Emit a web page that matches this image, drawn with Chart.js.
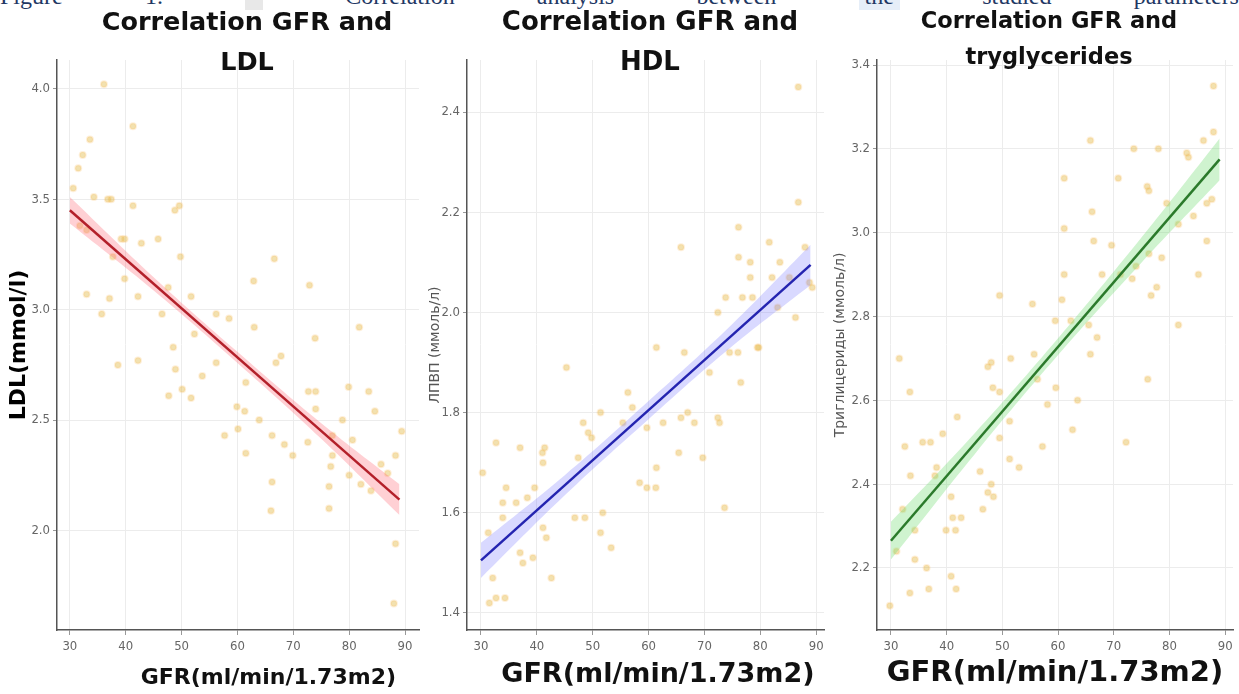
<!DOCTYPE html>
<html>
<head>
<meta charset="utf-8">
<script src="https://cdn.jsdelivr.net/npm/chart.js@4.4.1/dist/chart.umd.min.js"></script>
<style>
	body { margin: 0; width: 1239px; height: 694px; background: #fff; position: relative; overflow: hidden; }
	.caption { position: absolute; left: 0; top: -17px; width: 1239px; font-family: 'Liberation Serif', serif; font-size: 24px; color: #1f3864; display: flex; justify-content: space-between; }
	.caption .hl { background: #e8e8e8; }
	.caption .hl2 { background: #e6eef8; }
	.panel { position: absolute; top: 0; height: 694px; }
	.title { position: absolute; font-family: 'DejaVu Sans', sans-serif; font-weight: bold; color: #111; text-align: center; }
</style>
</head>
<body>
<div class="caption"><span>Figure</span><span>1.</span><span class="hl">&nbsp;&nbsp;&nbsp;</span><span>Correlation</span><span>analysis</span><span>between</span><span class="hl2">&nbsp;the&nbsp;</span><span>studied</span><span>parameters</span></div>

<div class="panel" style="left:0;width:425px"><canvas id="chart-ldl"></canvas></div>
<div class="panel" style="left:425px;width:405px"><canvas id="chart-hdl"></canvas></div>
<div class="panel" style="left:830px;width:409px"><canvas id="chart-tg"></canvas></div>

<div class="title" style="left:47px;width:400px;top:1px;font-size:25.5px;line-height:40px">Correlation GFR and<br>LDL</div>
<div class="title" style="left:450px;width:400px;top:1px;font-size:26px;line-height:40px">Correlation GFR and<br>HDL</div>
<div class="title" style="left:869px;width:360px;top:2px;font-size:22.5px;line-height:36px">Correlation GFR and<br>tryglycerides</div>

<script>
// LDL
var ldlGfr = [36.1, 41.3, 33.6, 32.3, 31.5, 30.6, 34.3, 36.8, 37.4, 41.3, 48.8, 49.6, 31.8, 33.0, 39.2, 39.8, 42.8, 45.8, 37.7, 49.8,
	66.6, 39.8, 62.9, 72.9, 33.0, 37.1, 42.2, 51.7, 35.7, 46.5, 47.6, 56.2, 58.5, 63.0, 81.8, 52.3, 73.9, 48.5, 38.6, 42.2,
	48.9, 56.2, 53.7, 47.7, 50.1, 51.7, 61.5, 59.9, 61.3, 63.9, 66.9, 67.8, 57.7, 60.1, 61.5, 66.2, 68.4, 69.9, 72.7, 74.0,
	74.0, 72.6, 79.9, 83.5, 84.6, 78.8, 77.0, 76.7, 76.4, 77.0, 80.0, 82.1, 83.9, 85.7, 86.9, 88.3, 89.4, 88.3, 88.0, 66.2,
	66.0, 76.4, 80.6];
var ldlVal = [4.02, 3.83, 3.77, 3.70, 3.64, 3.55, 3.51, 3.50, 3.50, 3.47, 3.45, 3.47, 3.38, 3.36, 3.32, 3.32, 3.30, 3.32, 3.24, 3.24,
	3.23, 3.14, 3.13, 3.11, 3.07, 3.05, 3.06, 3.06, 2.98, 2.98, 3.10, 2.98, 2.96, 2.92, 2.92, 2.89, 2.87, 2.83, 2.75, 2.77,
	2.73, 2.76, 2.70, 2.61, 2.64, 2.60, 2.67, 2.56, 2.54, 2.50, 2.76, 2.79, 2.43, 2.46, 2.35, 2.43, 2.39, 2.34, 2.63, 2.63,
	2.55, 2.40, 2.65, 2.63, 2.54, 2.50, 2.43, 2.29, 2.20, 2.34, 2.25, 2.21, 2.18, 2.30, 2.26, 2.34, 2.45, 1.94, 1.67, 2.22,
	2.09, 2.10, 2.41];

// HDL
var hdlGfr = [86.8, 86.8, 76.1, 65.8, 81.6, 88.0, 76.1, 78.2, 83.5, 78.2, 82.1, 85.2, 88.8, 89.3, 73.8, 76.8, 78.6, 72.4, 83.1, 86.3,
	79.5, 61.4, 66.4, 74.5, 76.0, 79.7, 45.3, 70.9, 76.5, 56.3, 57.1, 51.4, 55.4, 59.7, 62.6, 65.8, 67.0, 68.2, 72.4, 72.7,
	48.3, 49.2, 49.8, 32.7, 37.0, 41.4, 41.0, 41.1, 47.4, 65.4, 69.7, 61.4, 30.3, 58.4, 59.7, 61.3, 34.5, 39.6, 38.3, 36.3,
	33.9, 73.6, 51.8, 33.9, 46.8, 48.6, 31.3, 51.4, 41.1, 41.7, 53.3, 37.0, 39.3, 37.5, 42.6, 32.1, 32.7, 34.3, 31.5];
var hdlVal = [2.45, 2.22, 2.17, 2.13, 2.14, 2.13, 2.11, 2.10, 2.10, 2.07, 2.07, 2.07, 2.06, 2.05, 2.03, 2.03, 2.03, 2.00, 2.01, 1.99,
	1.93, 1.93, 1.92, 1.92, 1.92, 1.93, 1.89, 1.88, 1.86, 1.84, 1.81, 1.80, 1.78, 1.77, 1.78, 1.79, 1.80, 1.78, 1.79, 1.78,
	1.78, 1.76, 1.75, 1.74, 1.73, 1.73, 1.72, 1.70, 1.71, 1.72, 1.71, 1.69, 1.68, 1.66, 1.65, 1.65, 1.65, 1.65, 1.63, 1.62,
	1.62, 1.61, 1.60, 1.59, 1.59, 1.59, 1.56, 1.56, 1.57, 1.55, 1.53, 1.52, 1.51, 1.50, 1.47, 1.47, 1.43, 1.43, 1.42];

// Triglycerides
var tgGfr = [87.9, 87.9, 86.1, 65.8, 73.6, 78.0, 83.1, 83.4, 61.1, 70.8, 76.0, 76.3, 79.5, 86.7, 87.6, 66.1, 84.3, 61.1, 81.6, 66.4,
	86.7, 69.6, 76.3, 78.6, 74.0, 67.9, 71.2, 73.3, 85.2, 61.1, 77.7, 49.5, 76.7, 55.4, 60.7, 81.6, 59.5, 62.3, 65.5, 67.0,
	31.5, 51.5, 55.7, 65.8, 47.4, 48.0, 33.4, 48.3, 49.5, 56.3, 59.6, 58.1, 63.5, 76.1, 41.9, 51.3, 62.6, 39.3, 49.5, 35.7,
	37.1, 57.2, 72.2, 32.5, 51.3, 53.0, 38.2, 37.9, 46.0, 33.5, 48.0, 40.8, 47.4, 48.4, 32.1, 46.5, 41.1, 42.6, 39.9, 41.6,
	34.3, 31.0, 34.3, 36.4, 40.8, 33.4, 36.8, 41.7, 29.8];
var tgVal = [3.35, 3.24, 3.22, 3.22, 3.20, 3.20, 3.19, 3.18, 3.13, 3.13, 3.11, 3.10, 3.07, 3.07, 3.08, 3.05, 3.04, 3.01, 3.02, 2.98,
	2.98, 2.97, 2.95, 2.94, 2.92, 2.90, 2.90, 2.89, 2.90, 2.90, 2.87, 2.85, 2.85, 2.83, 2.84, 2.78, 2.79, 2.79, 2.78, 2.75,
	2.70, 2.70, 2.71, 2.71, 2.68, 2.69, 2.62, 2.63, 2.62, 2.65, 2.63, 2.59, 2.60, 2.65, 2.56, 2.55, 2.53, 2.52, 2.51, 2.50,
	2.50, 2.49, 2.50, 2.49, 2.46, 2.44, 2.44, 2.42, 2.43, 2.42, 2.40, 2.37, 2.38, 2.37, 2.34, 2.34, 2.32, 2.32, 2.29, 2.29,
	2.29, 2.24, 2.22, 2.20, 2.18, 2.14, 2.15, 2.15, 2.11];

// regression line + confidence band
var fitGfr = [30, 89];
var ldlFit = [3.45, 2.14];
var hdlFit = [1.505, 2.095];
var tgFit = [2.265, 3.175];

var bandGfr = [30, 45, 60, 75, 89];
var ldlUpper = [3.51, 3.147, 2.809, 2.486, 2.21];
var ldlLower = [3.39, 3.087, 2.759, 2.416, 2.07];
var hdlUpper = [1.54, 1.675, 1.823, 1.977, 2.135];
var hdlLower = [1.47, 1.635, 1.787, 1.933, 2.055];
var tgUpper = [2.31, 2.521, 2.748, 2.989, 3.225];
var tgLower = [2.22, 2.471, 2.708, 2.929, 3.125];

var xTicks = [30, 40, 50, 60, 70, 80, 90];

function pts(xs, ys) {
	return xs.map(function(x, i) { return { x: x, y: ys[i] }; });
}

var tickFont = { family: "'DejaVu Sans Condensed', 'Liberation Sans Narrow', sans-serif", size: 13 };

function makeChart(id, p) {
	var config = {
		type: 'scatter',
		data: {
			datasets: [
				{
					data: pts(p.gfr, p.val),
					backgroundColor: 'rgba(226,188,80,0.45)',
					borderColor: 'rgba(250,196,110,0.25)',
					borderWidth: 2,
					pointRadius: 3,
					order: 3
				},
				{
					type: 'line',
					data: pts(bandGfr, p.upper),
					borderWidth: 0,
					pointRadius: 0,
					fill: false,
					tension: 0.4,
					order: 2
				},
				{
					type: 'line',
					data: pts(bandGfr, p.lower),
					borderWidth: 0,
					pointRadius: 0,
					fill: '-1',
					backgroundColor: p.band,
					tension: 0.4,
					order: 2
				},
				{
					type: 'line',
					data: pts(fitGfr, p.fit),
					borderColor: p.line,
					borderWidth: 2.5,
					pointRadius: 0,
					fill: false,
					order: 1
				}
			]
		},
		options: {
			responsive: true,
			maintainAspectRatio: false,
			animation: false,
			layout: { padding: { top: 60, right: p.padRight, left: 0, bottom: 0 } },
			plugins: {
				legend: { display: false },
				tooltip: { enabled: false }
			},
			scales: {
				x: {
					type: 'linear',
					min: p.xMin,
					max: p.xMax,
					afterBuildTicks: function(scale) {
						scale.ticks = xTicks.map(function(v) { return { value: v }; });
					},
					afterFit: function(scale) { scale.height = 64; },
					ticks: { font: tickFont, color: '#666', padding: 4 },
					grid: { color: '#ececec', tickLength: 5, tickColor: '#999' },
					border: { color: '#555', width: 1.5 },
					title: {
						display: true,
						text: p.xTitle,
						align: p.xTitleAlign,
						font: { family: "'DejaVu Sans', sans-serif", weight: 'bold', size: p.xTitleSize },
						color: '#111',
						padding: { top: 0, bottom: 3 }
					}
				},
				y: {
					min: p.yMin,
					max: p.yMax,
					ticks: {
						stepSize: p.step,
						includeBounds: false,
						font: tickFont,
						color: '#666',
						padding: 3,
						callback: function(v) { return v.toFixed(1); }
					},
					afterFit: function(scale) { scale.width = p.yWidth; },
					grid: { color: '#ececec', tickLength: 4, tickColor: '#999' },
					border: { color: '#555', width: 1.5 },
					title: {
						display: true,
						text: p.yTitle,
						font: p.yTitleFont,
						color: p.yTitleColor,
						padding: { top: p.yTitlePad, bottom: 0 }
					}
				}
			}
		}
	};
	var ctx = document.getElementById(id).getContext('2d');
	return new Chart(ctx, config);
}

// trailing spaces nudge the end-aligned title left, as in the figure
chartLdl = makeChart('chart-ldl', {
	gfr: ldlGfr, val: ldlVal, fit: ldlFit, upper: ldlUpper, lower: ldlLower,
	line: '#b3202a', band: 'rgba(255,110,120,0.32)',
	xMin: 27.7, xMax: 92.5, yMin: 1.55, yMax: 4.13, step: 0.5,
	yWidth: 57, padRight: 5, xTitle: 'GFR(ml/min/1.73m2)   ', xTitleAlign: 'end', xTitleSize: 22,
	yTitle: 'LDL(mmol/l)', yTitleFont: { family: "'DejaVu Sans', sans-serif", weight: 'bold', size: 22 }, yTitleColor: '#000', yTitlePad: 6
});

chartHdl = makeChart('chart-hdl', {
	gfr: hdlGfr, val: hdlVal, fit: hdlFit, upper: hdlUpper, lower: hdlLower,
	line: '#2424b0', band: 'rgba(120,120,255,0.28)',
	xMin: 27.5, xMax: 91.4, yMin: 1.366, yMax: 2.504, step: 0.2,
	yWidth: 42, padRight: 5, xTitle: 'GFR(ml/min/1.73m2) ', xTitleAlign: 'end', xTitleSize: 27,
	yTitle: 'ЛПВП (ммоль/л)', yTitleFont: { family: "'DejaVu Sans', sans-serif", size: 14 }, yTitleColor: '#555', yTitlePad: 2
});

chartTg = makeChart('chart-tg', {
	gfr: tgGfr, val: tgVal, fit: tgFit, upper: tgUpper, lower: tgLower,
	line: '#2b7a2b', band: 'rgba(110,220,110,0.33)',
	xMin: 27.5, xMax: 91.4, yMin: 2.052, yMax: 3.412, step: 0.2,
	yWidth: 47, padRight: 4, xTitle: 'GFR(ml/min/1.73m2)', xTitleAlign: 'center', xTitleSize: 29,
	yTitle: 'Триглицериды (ммоль/л)', yTitleFont: { family: "'DejaVu Sans', sans-serif", size: 14 }, yTitleColor: '#555', yTitlePad: 2
});
</script>
</body>
</html>
